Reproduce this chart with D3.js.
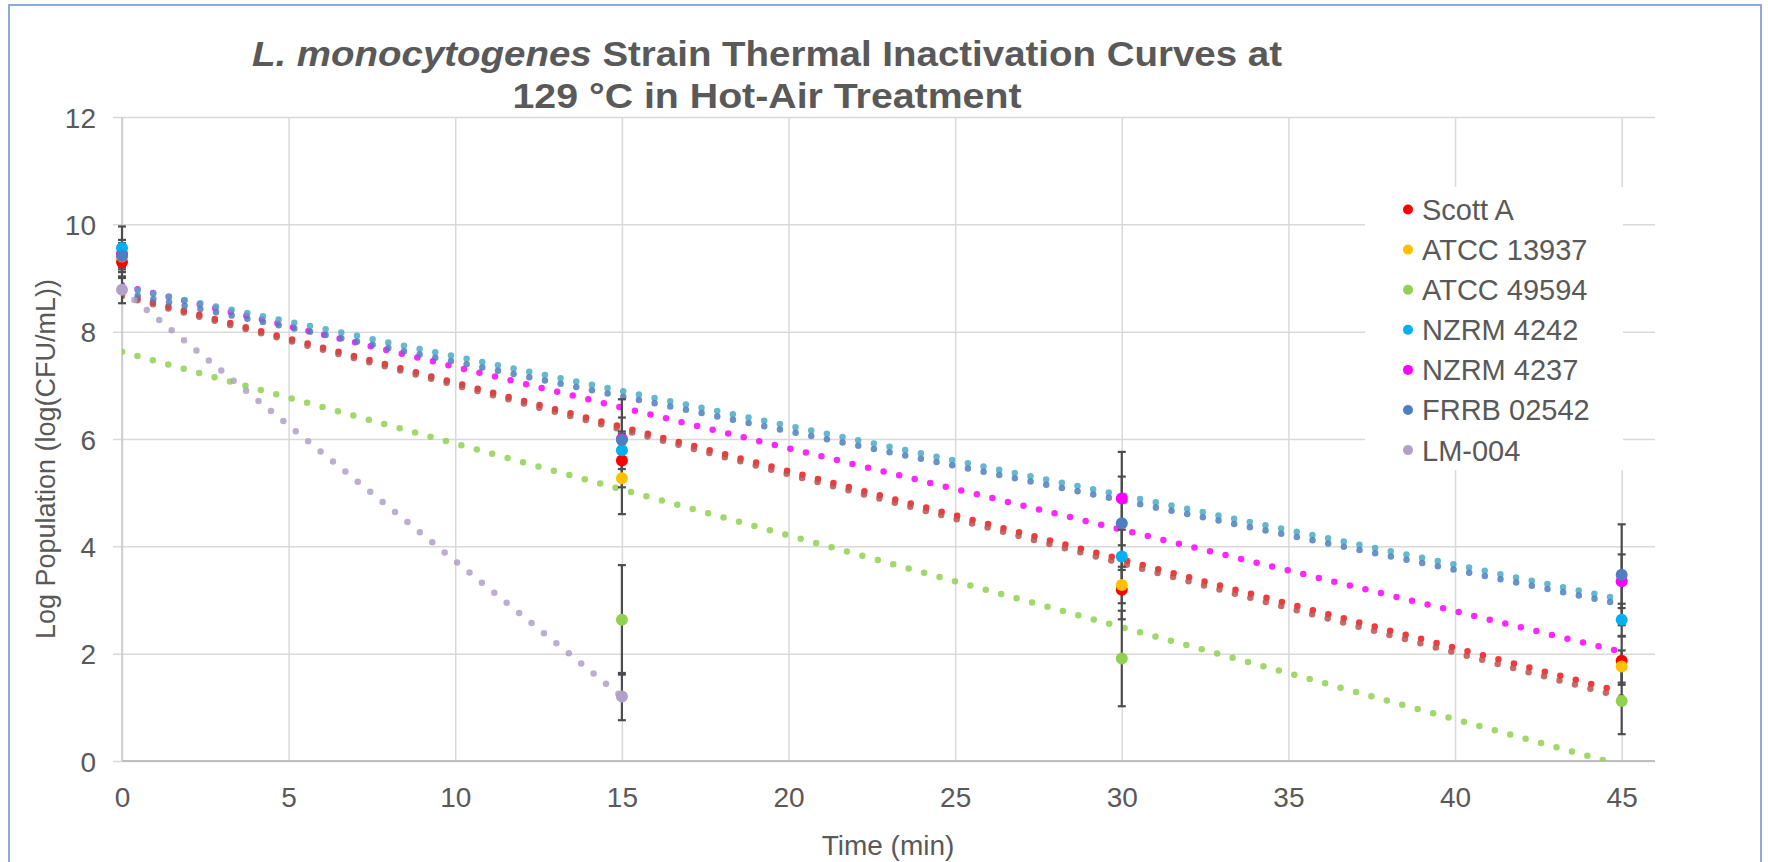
<!DOCTYPE html>
<html>
<head>
<meta charset="utf-8">
<style>
  body { margin: 0; background: #fff; }
  svg { display: block; font-family: "Liberation Sans", Arial, sans-serif; }
</style>
</head>
<body>
<svg width="1768" height="862"></svg>
<script src="https://d3js.org/d3.v7.min.js"></script>
<script>

// sampling times (min)
var times = [0, 15, 30, 45];
var xTicks = [0, 5, 10, 15, 20, 25, 30, 35, 40, 45];
var yTicks = [0, 2, 4, 6, 8, 10, 12];

var strains = ["Scott A", "ATCC 13937", "ATCC 49594", "NZRM 4242", "NZRM 4237", "FRRB 02542", "LM-004"];
var markerColors = ["#ff0000", "#ffc000", "#92d050", "#00b0f0", "#ff00ff", "#4f7fc0", "#b1a0c7"];
var trendColors = ["#f01818", "#c0504d", "#92d050", "#ff00ff", "#4bacc6", "#4f7fc0", "#b1a0c7"];

// log population means
var scottA    = [9.30, 5.60, 3.19, 1.87];
var atcc13937 = [9.40, 5.27, 3.28, 1.76];
var atcc49594 = [9.44, 2.63, 1.91, 1.12];
var nzrm4242  = [9.56, 5.79, 3.81, 2.63];
var nzrm4237  = [9.45, 6.00, 4.89, 3.35];
var frrb02542 = [9.41, 5.98, 4.43, 3.47];
var lm004     = [8.78, 1.20];

// standard deviations
var scottAErr    = [0.30, 0.50, 0.55, 0.45];
var atcc13937Err = [0.20, 0.67, 0.34, 0.30];
var atcc49594Err = [0.15, 1.02, 0.89, 0.62];
var nzrm4242Err  = [0.40, 0.35, 0.50, 0.30];
var nzrm4237Err  = [0.20, 0.40, 0.87, 0.50];
var frrb02542Err = [0.30, 0.76, 0.87, 0.94];
var lm004Err     = [0.25, 0.44];

var values = [scottA, atcc13937, atcc49594, nzrm4242, nzrm4237, frrb02542, lm004];
var errors = [scottAErr, atcc13937Err, atcc49594Err, nzrm4242Err, nzrm4237Err, frrb02542Err, lm004Err];
// NZRM 4237 sits under NZRM 4242 in the original
var drawOrder = [0, 1, 2, 4, 3, 5, 6];

var series = strains.map(function(name, i) {
  return {
    name: name,
    color: markerColors[i],
    trend: trendColors[i],
    points: values[i].map(function(v, j) { return {t: times[j], v: v, e: errors[i][j]}; })
  };
});

var svg = d3.select("svg"),
    margin = {top: 117, left: 122},
    width = 1533,
    height = 644,
    grey = "#595959";

var x = d3.scaleLinear().domain([0, 46]).range([0, width]);
var y = d3.scaleLinear().domain([0, 12]).range([height, 0]);

// outer chart border
svg.append("rect")
    .attr("x", 9).attr("y", 5)
    .attr("width", 1752).attr("height", 900)
    .attr("fill", "none")
    .attr("stroke", "#8eaadb")
    .attr("stroke-width", 2);

var g = svg.append("g").attr("transform", "translate(" + margin.left + "," + margin.top + ")");

g.append("clipPath").attr("id", "plot")
  .append("rect").attr("width", width).attr("height", height + 4).attr("y", -4);

// horizontal grid + y labels
var yAxis = g.append("g")
    .call(d3.axisLeft(y).tickValues(yTicks).tickSizeOuter(0).tickPadding(26));
yAxis.select(".domain").remove();
yAxis.selectAll(".tick line")
    .attr("x1", -9).attr("x2", width)
    .attr("stroke", "#d9d9d9").attr("stroke-width", 1.5);
yAxis.selectAll(".tick text")
    .attr("x", -26).attr("dy", "0.36em")
    .attr("fill", grey).style("font-size", "28px");

// vertical grid + x labels
var xAxis = g.append("g")
    .attr("transform", "translate(0," + height + ")")
    .call(d3.axisBottom(x).tickValues(xTicks).tickSizeOuter(0));
xAxis.select(".domain").remove();
xAxis.selectAll(".tick line")
    .attr("y1", -height).attr("y2", 0)
    .attr("stroke", "#d9d9d9").attr("stroke-width", 1.5);
xAxis.selectAll(".tick text")
    .attr("y", 46).attr("dy", 0)
    .attr("fill", grey).style("font-size", "28px");

// axis lines
g.append("line").attr("x1", 0).attr("x2", width).attr("y1", height).attr("y2", height)
    .attr("stroke", "#bfbfbf").attr("stroke-width", 2);
g.append("line").attr("x1", 0).attr("x2", 0).attr("y1", 0).attr("y2", height)
    .attr("stroke", "#c8c8c8").attr("stroke-width", 1.5);

// axis titles
svg.append("text")
    .attr("x", 888).attr("y", 855)
    .attr("text-anchor", "middle")
    .attr("fill", grey).style("font-size", "28px")
    .text("Time (min)");

svg.append("text")
    .attr("transform", "translate(55,459) rotate(-90)")
    .attr("text-anchor", "middle")
    .attr("fill", grey).style("font-size", "27px")
    .text("Log Population (log(CFU/mL))");

// chart title
var t1 = svg.append("text")
    .attr("x", 767).attr("y", 66)
    .attr("text-anchor", "middle")
    .attr("textLength", 1030).attr("lengthAdjust", "spacingAndGlyphs")
    .attr("fill", grey).style("font-size", "35px").style("font-weight", "bold");
t1.append("tspan").style("font-style", "italic").text("L. monocytogenes");
t1.append("tspan").text(" Strain Thermal Inactivation Curves at");

svg.append("text")
    .attr("x", 767).attr("y", 108)
    .attr("text-anchor", "middle")
    .attr("textLength", 509).attr("lengthAdjust", "spacingAndGlyphs")
    .attr("fill", grey).style("font-size", "35px").style("font-weight", "bold")
    .text("129 °C in Hot-Air Treatment");

// linear trendlines (least squares over each strain's points)
function fit(pts) {
  var mx = d3.mean(pts, function(d) { return d.t; }),
      my = d3.mean(pts, function(d) { return d.v; }),
      sxy = d3.sum(pts, function(d) { return (d.t - mx) * (d.v - my); }),
      sxx = d3.sum(pts, function(d) { return (d.t - mx) * (d.t - mx); }),
      slope = sxy / sxx;
  return function(t) { return my + slope * (t - mx); };
}

var line = d3.line()
    .x(function(d) { return x(d[0]); })
    .y(function(d) { return y(d[1]); });

var trends = g.append("g").attr("clip-path", "url(#plot)");
series.forEach(function(s) {
  var f = fit(s.points),
      t0 = s.points[0].t,
      t1 = s.points[s.points.length - 1].t;
  trends.append("path")
      .datum([[t0, f(t0)], [t1, f(t1)]])
      .attr("d", line)
      .attr("fill", "none")
      .attr("stroke", s.trend)
      .attr("stroke-opacity", 0.85)
      .attr("stroke-width", 6.5)
      .attr("stroke-linecap", "round")
      .attr("stroke-dasharray", "0 16");
});

// error bars
var bars = g.append("g").attr("stroke", "#4d4d4d").attr("stroke-width", 2.2);
series.forEach(function(s) {
  s.points.forEach(function(d) {
    var cx = x(d.t);
    bars.append("line").attr("x1", cx).attr("x2", cx)
        .attr("y1", y(d.v + d.e)).attr("y2", y(d.v - d.e));
    [d.v + d.e, d.v - d.e].forEach(function(v) {
      bars.append("line").attr("x1", cx - 4).attr("x2", cx + 4)
          .attr("y1", y(v)).attr("y2", y(v));
    });
  });
});

// markers
var marks = g.append("g");
drawOrder.forEach(function(i) {
  var s = series[i];
  marks.selectAll(null)
      .data(s.points)
    .enter().append("circle")
      .attr("cx", function(d) { return x(d.t); })
      .attr("cy", function(d) { return y(d.v); })
      .attr("r", 6)
      .attr("fill", s.color);
});

// legend
var legend = svg.append("g");
legend.append("rect")
    .attr("x", 1365).attr("y", 187)
    .attr("width", 258).attr("height", 283)
    .attr("fill", "#fff");

var item = legend.selectAll(".item")
    .data(series)
  .enter().append("g")
    .attr("transform", function(d, i) { return "translate(1408," + (209.5 + i * 40.1) + ")"; });

item.append("circle").attr("r", 5).attr("fill", function(d) { return d.color; });
item.append("text")
    .attr("x", 14).attr("dy", "0.36em")
    .attr("fill", grey).style("font-size", "29px")
    .text(function(d) { return d.name; });

</script>
</body>
</html>
